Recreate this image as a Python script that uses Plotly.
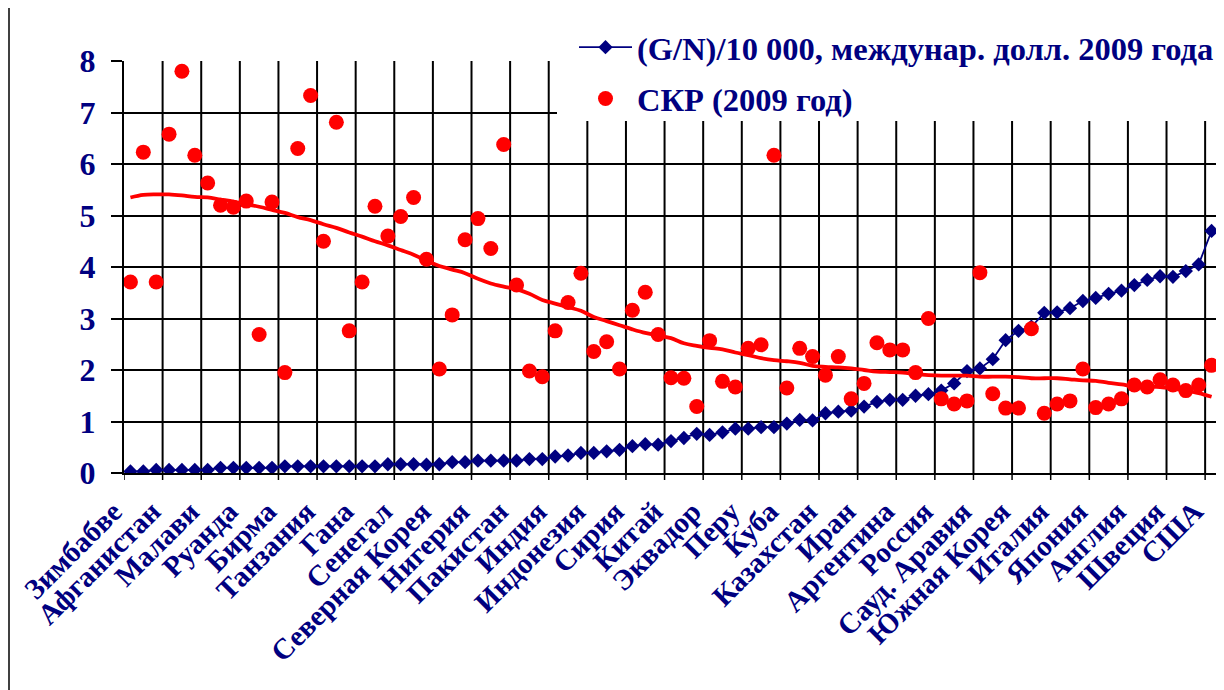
import plotly.graph_objects as go

# ---- data ----
tick_labels = ["Зимбабве", "Афганистан", "Малави", "Руанда", "Бирма", "Танзания",
               "Гана", "Сенегал", "Северная Корея", "Нигерия", "Пакистан", "Индия",
               "Индонезия", "Сирия", "Китай", "Эквадор", "Перу", "Куба", "Казахстан",
               "Иран", "Аргентина", "Россия", "Сауд. Аравия", "Южная Корея", "Италия",
               "Япония", "Англия", "Швеция", "США"]
label_step = 3

gn = [0.03, 0.03, 0.06, 0.06, 0.06, 0.06, 0.06, 0.10, 0.10, 0.10,
      0.10, 0.10, 0.13, 0.13, 0.13, 0.13, 0.13, 0.13, 0.13, 0.13,
      0.17, 0.17, 0.17, 0.16, 0.17, 0.21, 0.21, 0.24, 0.24, 0.24,
      0.24, 0.27, 0.27, 0.32, 0.34, 0.39, 0.39, 0.42, 0.45, 0.52,
      0.56, 0.55, 0.62, 0.68, 0.76, 0.74, 0.79, 0.86, 0.86, 0.89,
      0.89, 0.96, 1.03, 1.02, 1.16, 1.19, 1.21, 1.29, 1.38, 1.42,
      1.42, 1.50, 1.53, 1.60, 1.74, 1.98, 2.03, 2.21, 2.58, 2.76,
      2.84, 3.11, 3.12, 3.20, 3.34, 3.40, 3.48, 3.54, 3.65, 3.75,
      3.82, 3.81, 3.92, 4.05, 4.70]

tfr = [3.71, 6.23, 3.71, 6.58, 7.80, 6.17, 5.63, 5.20, 5.16, 5.28,
       2.69, 5.26, 1.95, 6.30, 7.33, 4.50, 6.81, 2.76, 3.71, 5.18,
       4.60, 4.98, 5.35, 4.15, 2.02, 3.07, 4.53, 4.94, 4.36, 6.38,
       3.65, 1.98, 1.87, 2.76, 3.31, 3.88, 2.36, 2.55, 2.02, 3.16,
       3.51, 2.69, 1.85, 1.84, 1.29, 2.57, 1.78, 1.67, 2.42, 2.49,
       6.17, 1.65, 2.42, 2.26, 1.90, 2.26, 1.44, 1.74, 2.53, 2.39,
       2.39, 1.95, 3.00, 1.44, 1.34, 1.40, 3.89, 1.54, 1.26, 1.26,
       2.80, 1.16, 1.34, 1.40, 2.02, 1.27, 1.34, 1.44, 1.71, 1.67,
       1.81, 1.71, 1.60, 1.71, 2.09]

tfr_trend = [5.35, 5.40, 5.41, 5.41, 5.39, 5.36, 5.35, 5.31, 5.27, 5.22,
             5.17, 5.11, 5.05, 4.97, 4.91, 4.83, 4.76, 4.67, 4.59, 4.50,
             4.42, 4.33, 4.24, 4.12, 4.02, 3.95, 3.88, 3.77, 3.68, 3.62,
             3.57, 3.48, 3.36, 3.29, 3.22, 3.15, 3.03, 2.95, 2.87, 2.79,
             2.72, 2.67, 2.62, 2.52, 2.47, 2.43, 2.40, 2.34, 2.29, 2.23,
             2.19, 2.17, 2.14, 2.08, 2.06, 2.05, 2.03, 2.00, 1.97, 1.96,
             1.95, 1.92, 1.90, 1.89, 1.89, 1.89, 1.87, 1.87, 1.87, 1.86,
             1.84, 1.84, 1.84, 1.82, 1.80, 1.79, 1.75, 1.72, 1.68, 1.67,
             1.67, 1.64, 1.60, 1.55, 1.48]

# ---- figure ----
NAVY = "#000080"
RED = "#FF0000"
FONT = "Liberation Serif"

# the page body adds an 8px margin, so the figure is 8px smaller than the window
W, H = 1216, 682
ML, MR, MT, MB = 116, 6, 53, 217
plot_w = W - ML - MR
plot_h = H - MT - MB
Y_MAX = 8


def px_x(px):   # figure pixel -> paper x
    return (px - ML) / plot_w


def px_y(py):   # figure pixel (from top) -> paper y
    return (H - MB - py) / plot_h


n = len(gn)
x = list(range(n))
label_pos = [i * label_step for i in range(len(tick_labels))]
bound_pos = [k - 0.5 for k in range(0, n, label_step)]
xrange_ = [-0.5, n - 0.5]

fig = go.Figure()

# vertical grid lines at category-group boundaries (data coordinates)
for gx in bound_pos[1:]:
    fig.add_shape(type="line", xref="x", yref="y", x0=gx, x1=gx,
                  y0=0, y1=Y_MAX, layer="below",
                  line=dict(color="black", width=2))
# tick marks below the category axis
for gx in bound_pos:
    fig.add_shape(type="line", xref="x", yref="paper", x0=gx, x1=gx,
                  y0=-7 / plot_h, y1=0, layer="above",
                  line=dict(color="black", width=1.5))

fig.add_trace(go.Scatter(
    x=x, y=gn, mode="lines+markers",
    name="(G/N)/10 000, междунар. долл. 2009 года",
    line=dict(color=NAVY, width=1.8),
    marker=dict(symbol="diamond", size=11, color=NAVY),
    legendgroup="a"))
fig.add_trace(go.Scatter(
    x=x, y=tfr, mode="markers", name="СКР (2009 год)",
    marker=dict(symbol="circle", size=15, color=RED),
    legendgroup="b"))
fig.add_trace(go.Scatter(
    x=x, y=tfr_trend, mode="lines", showlegend=False,
    line=dict(color=RED, width=3.8, shape="spline"), hoverinfo="skip"))

fig.update_layout(
    width=W, height=H,
    margin=dict(l=ML, r=MR, t=MT, b=MB, autoexpand=False),
    paper_bgcolor="white", plot_bgcolor="rgba(0,0,0,0)",
    font=dict(family=FONT, color=NAVY, size=30, weight="bold"),
    showlegend=True,
    legend=dict(x=px_x(566), y=1.1005, xanchor="left", yanchor="top",
                bgcolor="rgba(0,0,0,0)", borderwidth=0,
                font=dict(family=FONT, size=32.5, color=NAVY, weight="bold"),
                tracegroupgap=6, traceorder="grouped",
                itemwidth=53),
    xaxis=dict(
        range=xrange_, tickmode="array", tickvals=label_pos,
        ticktext=tick_labels, tickangle=-45, ticks="",
        showgrid=False, zeroline=False,
        showline=True, linecolor="black", linewidth=2,
        tickfont=dict(family=FONT, size=29, color=NAVY, weight="bold"),
        ticklabelshift=-17, ticklabelstandoff=8, ticklabeloverflow="allow",
    ),
    yaxis=dict(
        range=[0, Y_MAX], dtick=1, showgrid=True, gridcolor="black", gridwidth=2,
        zeroline=False, showline=True, linecolor="black", linewidth=2,
        ticks="outside", ticklen=11, tickcolor="black", tickwidth=2,
        tickfont=dict(family=FONT, size=32, color=NAVY, weight="bold"),
        ticklabelstandoff=9,
    ),
)

# plot-area right border (grey, like the reference)
fig.add_shape(type="line", xref="paper", yref="paper", x0=1, x1=1, y0=0, y1=1,
              line=dict(color="#808080", width=2))
# white legend area that hides the grid in the top-right corner
fig.add_shape(type="rect", xref="paper", yref="paper",
              x0=px_x(549), x1=px_x(W), y0=px_y(113), y1=px_y(0),
              fillcolor="white", line=dict(width=0), layer="above")
# chart-area frame: left edge
fig.add_shape(type="line", xref="paper", yref="paper",
              x0=px_x(1), x1=px_x(1), y0=px_y(H), y1=px_y(0),
              line=dict(color="black", width=1.5))

fig.write_html("out.html")
